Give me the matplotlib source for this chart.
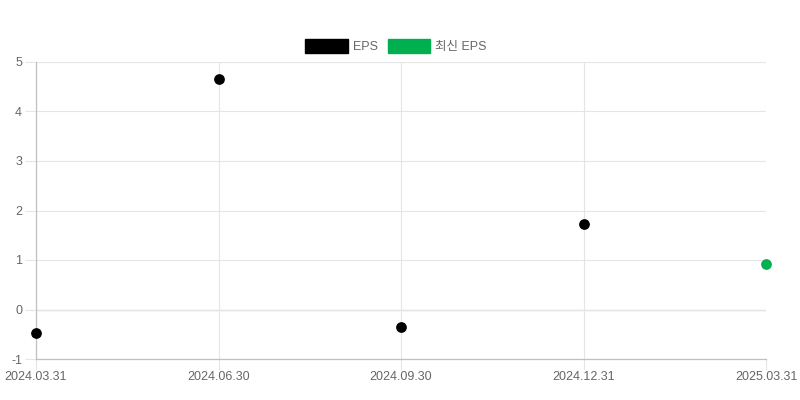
import matplotlib.pyplot as plt
from matplotlib.patches import Patch

plt.rcParams['font.family'] = ['Liberation Sans', 'Noto Sans CJK KR', 'DejaVu Sans']

dates = ['2024.03.31', '2024.06.30', '2024.09.30', '2024.12.31', '2025.03.31']
eps = [-0.47, 4.66, -0.35, 1.72]
latest_eps = [0.91]
yticks = [-1, 0, 1, 2, 3, 4, 5]

black = '#000000'
green = '#00b050'

fig = plt.figure(figsize=(8, 4), dpi=100)
ax = fig.add_axes([0.045, 0.1025, 0.9125, 0.7425])

x = list(range(len(dates)))
ax.scatter(x[:len(eps)], eps, s=45, color=black, zorder=3, clip_on=False)
ax.scatter(x[len(eps):], latest_eps, s=45, color=green, zorder=3, clip_on=False)

ax.set_xlim(0, len(dates) - 1)
ax.set_ylim(-1, 5)
ax.set_xticks(x)
ax.set_xticklabels(dates)
ax.set_yticks(yticks)
ax.set_yticklabels([str(v) for v in yticks])

ax.grid(True, color='#e5e5e5', linewidth=0.8, zorder=0)
ax.axhline(0, color='#c0c0c0', linewidth=0.9, zorder=1)
for side in ['top', 'right']:
    ax.spines[side].set_visible(False)
for side in ['left', 'bottom']:
    ax.spines[side].set_color('#c0c0c0')
    ax.spines[side].set_linewidth(0.9)

ax.tick_params(axis='y', length=8, color='#e5e5e5', labelsize=9, labelcolor='#666666', pad=2)
ax.tick_params(axis='x', length=8, color='#e5e5e5', labelsize=9, labelcolor='#666666', pad=1)

handles = [Patch(facecolor=black, edgecolor=black, label='EPS'),
           Patch(facecolor=green, edgecolor=green, label='최신 EPS')]
fig.legend(handles=handles, loc='center', bbox_to_anchor=(0.495, 0.885), ncol=2,
           frameon=False, fontsize=9, labelcolor='#666666',
           handlelength=3.4, handleheight=1.3, handletextpad=0.4, columnspacing=0.8)

fig.savefig('out.png', dpi=100)
